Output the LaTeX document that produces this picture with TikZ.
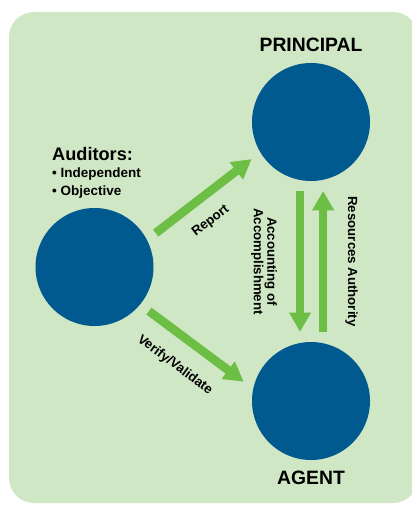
\documentclass[tikz,border=0pt]{standalone}
\usepackage{fontspec}
\setmainfont{Liberation Sans}
\usetikzlibrary{arrows.meta}
\definecolor{panelgreen}{RGB}{208,231,197}
\definecolor{discblue}{RGB}{0,90,143}
\definecolor{flowgreen}{RGB}{108,190,69}
\begin{document}
\begin{tikzpicture}[x=0.03cm,y=-0.03cm,
    disc/.style={circle,fill=discblue,minimum size=3.54cm,inner sep=0pt,outer sep=0.33cm},
    flow/.style={draw=flowgreen,line width=0.26cm,-{Triangle[width=0.62cm,length=0.58cm]}},
    role/.style={font=\bfseries\fontsize{16.5}{18}\selectfont,inner sep=0pt},
    tag/.style={font=\bfseries\fontsize{11.3}{10}\selectfont,text=black}]
    \useasboundingbox (0,0) rectangle (411,506);
    \fill[panelgreen,rounded corners=0.75cm] (9,12) rectangle (418,503);

    \node[disc, label={[role]above:PRINCIPAL}] (PR) at (311,122) {};
    \node[disc, label={[role]below:AGENT}] (AG) at (311,401) {};
    \node[disc] (AU) at (94.5,267) {};
    \node[anchor=north west,inner sep=0pt,align=left,font=\bfseries\fontsize{11.5}{15.4}\selectfont] (AN) at (52,147)
        {{\fontsize{15.5}{18}\selectfont Auditors:}\\[-1pt]
         • Independent\\
         • Objective};

    \draw[flow] (AU.29) -- (PR.212)
        node[tag,pos=.42,sloped,anchor=north,inner sep=0.42cm] {Report};
    \draw[flow] (AU.-39) -- (AG.164)
        node[tag,pos=.45,sloped,anchor=north,inner sep=0.52cm] {Verify/Validate};
    \draw[flow] (PR.-99) -- (AG.99)
        node[tag,pos=.5,rotate=-90,anchor=north,align=center,inner sep=0.56cm] {Accounting of\\Accomplishment};
    \draw[flow] (AG.80) -- (PR.-80)
        node[tag,pos=.5,rotate=-90,anchor=south,inner sep=0.54cm] {Resources Authority};
\end{tikzpicture}
\end{document}
